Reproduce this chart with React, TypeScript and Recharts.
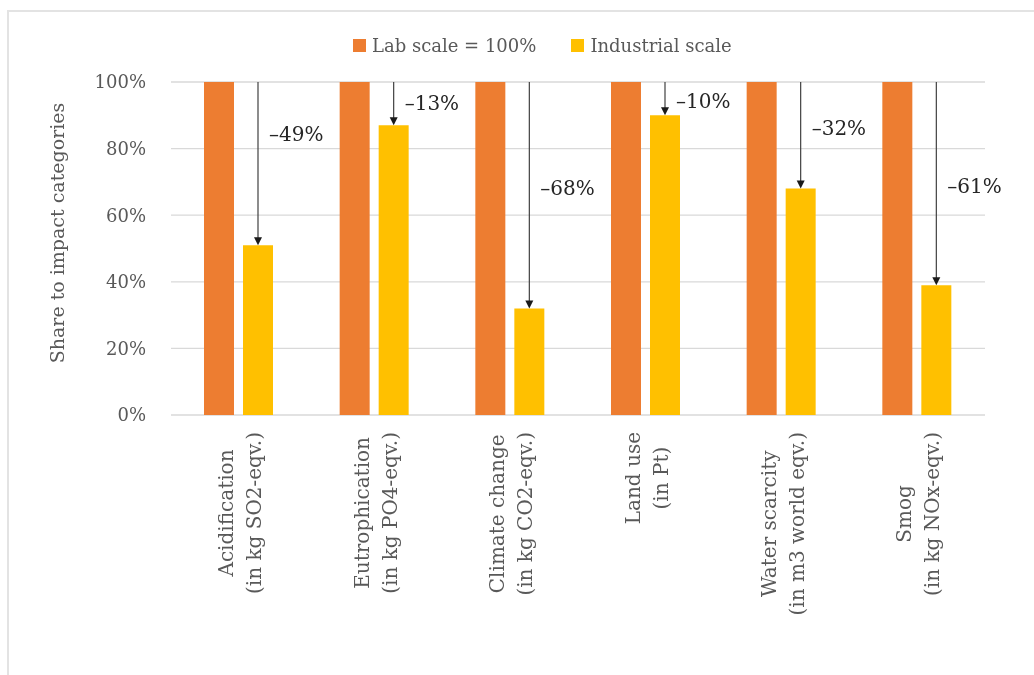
import React from 'react';
import { BarChart, Bar, XAxis, YAxis, CartesianGrid, Legend, Label, LabelList } from 'recharts';

const categories = ['Acidification', 'Eutrophication', 'Climate change', 'Land use', 'Water scarcity', 'Smog'];
const units = ['(in kg SO2-eqv.)', '(in kg PO4-eqv.)', '(in kg CO2-eqv.)', '(in Pt)', '(in m3 world eqv.)', '(in kg NOx-eqv.)'];
const labScale = [100, 100, 100, 100, 100, 100];
const industrialScale = [51, 87, 32, 90, 68, 39];
// height (in % of the y axis) at which each reduction note is written
const noteLevel = [84.4, 93.7, 68.3, 94.3, 86.3, 68.9];
const yTicks = [0, 20, 40, 60, 80, 100];
const seriesNames = ['Lab scale = 100%', 'Industrial scale'];

const ORANGE = '#ED7D31';
const YELLOW = '#FFC000';
const GREY = '#595959';
const FONT = "'DejaVu Serif', serif";

const data = categories.map((c, i) => ({
  name: c,
  lab: labScale[i],
  industrial: industrialScale[i],
}));

let ctx: CanvasRenderingContext2D | null = null;
function measure(text: string, size: number): number {
  if (!ctx) ctx = document.createElement('canvas').getContext('2d');
  if (!ctx) return text.length * size * 0.55;
  ctx.font = `${size}px 'DejaVu Serif'`;
  return ctx.measureText(text).width;
}

const CategoryTick = (props: any) => {
  const { x, y, payload } = props;
  const i = categories.indexOf(payload.value);
  const lines = [categories[i], units[i]];
  const w = Math.max(...lines.map((l) => measure(l, 20)));
  const cy = y + w / 2;
  return (
    <g>
      {lines.map((l, k) => (
        <text
          key={k}
          transform={`translate(${x - 6 + k * 28},${cy}) rotate(-90)`}
          textAnchor="middle"
          fontSize={20}
          fill={GREY}
          fontFamily={FONT}
        >
          {l}
        </text>
      ))}
    </g>
  );
};

const ArrowNote = (props: any) => {
  const { x, y, width, height, value, index } = props;
  const v = Number(value);
  if (!v) return null;
  const cx = x + width / 2;
  const base = y + height;
  const perUnit = height / v;
  const top = base - 100 * perUnit;
  const ty = base - noteLevel[index] * perUnit;
  return (
    <g>
      <line x1={cx} y1={top} x2={cx} y2={y - 7} stroke="#404040" strokeWidth={1.2} />
      <polygon points={`${cx - 4},${y - 8} ${cx + 4},${y - 8} ${cx},${y}`} fill="#1a1a1a" />
      <text x={cx + 11} y={ty} dominantBaseline="central" fontSize={20} fill="#262626" fontFamily={FONT}>
        {`\u2013${100 - v}%`}
      </text>
    </g>
  );
};

const LegendContent = () => (
  <div style={{ height: 54, width: 1018, position: 'relative', fontFamily: FONT }}>
    <div style={{ display: 'flex', alignItems: 'center', height: 34, paddingLeft: 345 }}>
      <span style={{ width: 13, height: 13, background: ORANGE, display: 'inline-block' }} />
      <span style={{ marginLeft: 6, fontSize: 18, color: GREY }}>{seriesNames[0]}</span>
      <span style={{ width: 13, height: 13, background: YELLOW, display: 'inline-block', marginLeft: 35 }} />
      <span style={{ marginLeft: 6, fontSize: 18, color: GREY }}>{seriesNames[1]}</span>
    </div>
  </div>
);

const YTitle = (props: any) => {
  const vb = props.viewBox || { x: 0, y: 0, width: 0, height: 0 };
  const bx = vb.x + 56;
  const cy = 225;
  return (
    <text
      transform={`translate(${bx},${cy}) rotate(-90)`}
      textAnchor="middle"
      fontSize={19}
      fill={GREY}
      fontFamily={FONT}
    >
      Share to impact categories
    </text>
  );
};

export default function App() {
  return (
    <div style={{ position: 'relative', width: 1018, height: 655, fontFamily: FONT }}>
      <div
        style={{
          position: 'fixed',
          left: 7,
          top: 10,
          right: 0,
          bottom: 0,
          borderTop: '2px solid #e3e3e3',
          borderLeft: '2px solid #e3e3e3',
          pointerEvents: 'none',
        }}
      />
      <BarChart
        width={1018}
        height={655}
        data={data}
        margin={{ top: 20, right: 41, left: 0, bottom: 8 }}
        barGap={9}
      >
        <CartesianGrid vertical={false} stroke="#d9d9d9" strokeWidth={1.3} />
        <Legend verticalAlign="top" content={<LegendContent />} wrapperStyle={{ left: 0, width: 1018 }} />
        <XAxis
          dataKey="name"
          axisLine={false}
          tickLine={false}
          tickSize={0}
          tickMargin={17}
          height={240}
          interval={0}
          tick={<CategoryTick />}
        />
        <YAxis
          domain={[0, 100]}
          ticks={yTicks}
          width={163}
          axisLine={false}
          tickLine={false}
          tickSize={0}
          tickMargin={25}
          tickFormatter={(v: number) => `${v}%`}
          tick={{ fontSize: 18, fill: GREY, fontFamily: FONT }}
        >
          <Label content={<YTitle />} />
        </YAxis>
        <Bar dataKey="lab" name={seriesNames[0]} fill={ORANGE} barSize={30} isAnimationActive={false} />
        <Bar dataKey="industrial" name={seriesNames[1]} fill={YELLOW} barSize={30} isAnimationActive={false}>
          <LabelList dataKey="industrial" content={<ArrowNote />} />
        </Bar>
      </BarChart>
    </div>
  );
}
